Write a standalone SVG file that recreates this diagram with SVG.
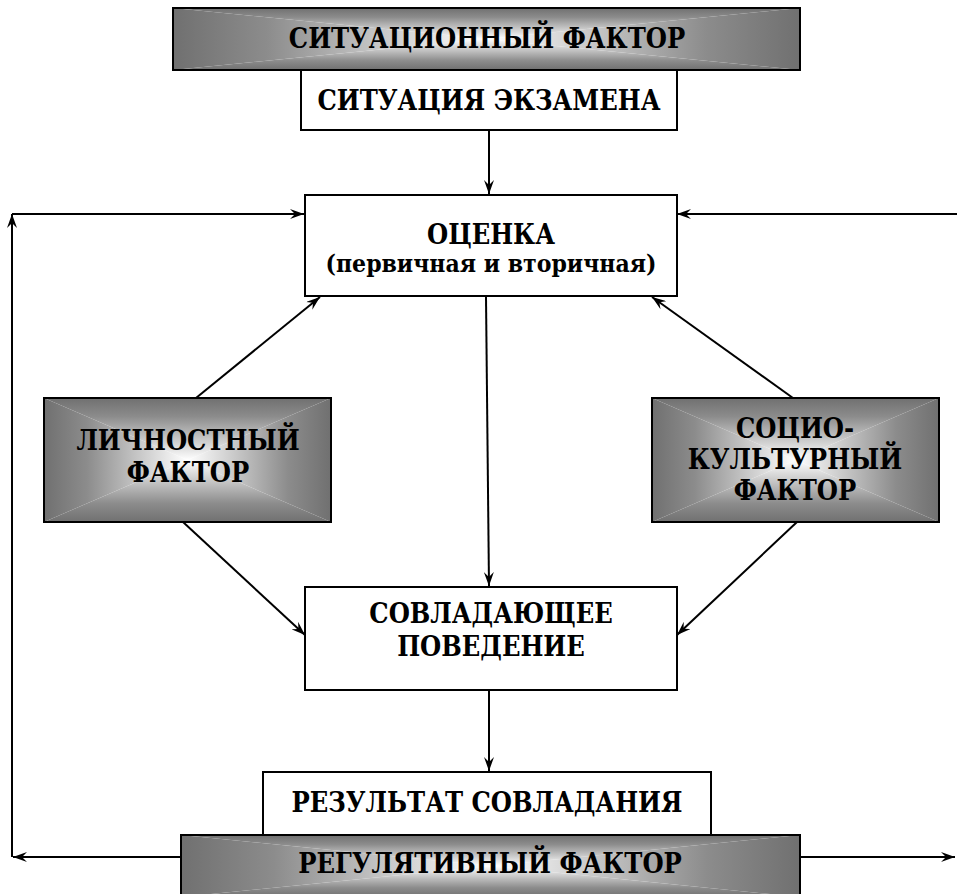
<svg xmlns="http://www.w3.org/2000/svg" width="957" height="894" viewBox="0 0 957 894">
<style>
.box{fill:#fff;stroke:#000;stroke-width:2}
.frame{fill:none;stroke:#000;stroke-width:2}
text{font-family:"DejaVu Serif Condensed","DejaVu Serif",serif;font-weight:700;font-size:27px;text-anchor:middle;fill:#000}
text.sm{font-size:24.5px}
.c{fill:none;stroke:#000;stroke-width:2}
.ca{fill:none;stroke:#000;stroke-width:2;marker-end:url(#ah)}
</style>
<defs>
<marker id="ah" viewBox="-14 -5 15 10" refX="0" refY="0" markerWidth="15" markerHeight="10" markerUnits="userSpaceOnUse" orient="auto">
<path d="M0,0 L-14,-5 L-9,0 L-14,5 Z" fill="#000"/>
</marker>
<linearGradient id="gT" x1="0" y1="0" x2="0" y2="1"><stop offset="0" stop-color="#707070"/><stop offset="0.3" stop-color="#8c8c8c"/><stop offset="1" stop-color="#ffffff"/></linearGradient>
<linearGradient id="gB" x1="0" y1="1" x2="0" y2="0"><stop offset="0" stop-color="#707070"/><stop offset="0.3" stop-color="#8c8c8c"/><stop offset="1" stop-color="#ffffff"/></linearGradient>
<linearGradient id="gL" x1="0" y1="0" x2="1" y2="0"><stop offset="0" stop-color="#707070"/><stop offset="0.3" stop-color="#8c8c8c"/><stop offset="1" stop-color="#ffffff"/></linearGradient>
<linearGradient id="gR" x1="1" y1="0" x2="0" y2="0"><stop offset="0" stop-color="#707070"/><stop offset="0.3" stop-color="#8c8c8c"/><stop offset="1" stop-color="#ffffff"/></linearGradient>
</defs>
<rect width="957" height="894" fill="#fff"/>

<g id="connectors">
<path class="ca" d="M489,130 L489,194"/>
<path class="c" d="M12,857 L12,230"/>
<path class="ca" d="M12,240 L12,214"/>
<path class="ca" d="M12,214 L304,214"/>
<path class="ca" d="M957,214 L677,214"/>
<path class="ca" d="M181,857 L13,857"/>
<path class="ca" d="M800,857 L955,857"/>
<path class="ca" d="M196,398 L320,297"/>
<path class="ca" d="M793,398 L652,297"/>
<path class="ca" d="M486,297 L489,586"/>
<path class="ca" d="M183,522 L305,635"/>
<path class="ca" d="M797,522 L677,635"/>
<path class="ca" d="M489,690 L489,771"/>
</g>

<g id="situational-factor">
<polygon points="173,8 800,8 486.5,39" fill="url(#gT)"/>
<polygon points="173,70 800,70 486.5,39" fill="url(#gB)"/>
<polygon points="173,8 486.5,39 173,70" fill="url(#gL)"/>
<polygon points="800,8 486.5,39 800,70" fill="url(#gR)"/>
<rect class="frame" x="173" y="8" width="627" height="62"/>
<text x="487" y="48">СИТУАЦИОННЫЙ ФАКТОР</text>
</g>

<g id="exam-situation">
<rect class="box" x="301" y="70" width="376" height="60"/>
<text x="489" y="110">СИТУАЦИЯ ЭКЗАМЕНА</text>
</g>

<g id="appraisal">
<rect class="box" x="305" y="195" width="372" height="101"/>
<text x="491" y="244">ОЦЕНКА</text>
<text class="sm" x="491" y="272">(первичная и вторичная)</text>
</g>

<g id="personal-factor">
<polygon points="44,398 331,398 187.5,460" fill="url(#gT)"/>
<polygon points="44,522 331,522 187.5,460" fill="url(#gB)"/>
<polygon points="44,398 187.5,460 44,522" fill="url(#gL)"/>
<polygon points="331,398 187.5,460 331,522" fill="url(#gR)"/>
<rect class="frame" x="44" y="398" width="287" height="124"/>
<text x="188" y="450">ЛИЧНОСТНЫЙ</text>
<text x="188" y="482">ФАКТОР</text>
</g>

<g id="sociocultural-factor">
<polygon points="652,398 939,398 795.5,460" fill="url(#gT)"/>
<polygon points="652,522 939,522 795.5,460" fill="url(#gB)"/>
<polygon points="652,398 795.5,460 652,522" fill="url(#gL)"/>
<polygon points="939,398 795.5,460 939,522" fill="url(#gR)"/>
<rect class="frame" x="652" y="398" width="287" height="124"/>
<text x="795" y="438">СОЦИО-</text>
<text x="795" y="469">КУЛЬТУРНЫЙ</text>
<text x="795" y="500">ФАКТОР</text>
</g>

<g id="coping-behavior">
<rect class="box" x="305" y="587" width="372" height="103"/>
<text x="491" y="623">СОВЛАДАЮЩЕЕ</text>
<text x="491" y="656">ПОВЕДЕНИЕ</text>
</g>

<g id="coping-result">
<rect class="box" x="263" y="772" width="448" height="63"/>
<text x="487" y="812">РЕЗУЛЬТАТ СОВЛАДАНИЯ</text>
</g>

<g id="regulative-factor">
<polygon points="181,835 800,835 490.5,866" fill="url(#gT)"/>
<polygon points="181,897 800,897 490.5,866" fill="url(#gB)"/>
<polygon points="181,835 490.5,866 181,897" fill="url(#gL)"/>
<polygon points="800,835 490.5,866 800,897" fill="url(#gR)"/>
<rect class="frame" x="181" y="835" width="619" height="62"/>
<text x="490" y="873">РЕГУЛЯТИВНЫЙ ФАКТОР</text>
</g>
</svg>
